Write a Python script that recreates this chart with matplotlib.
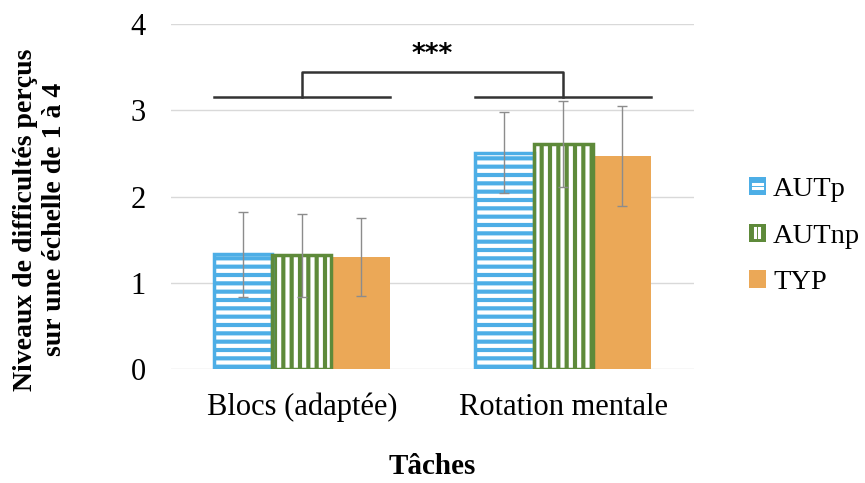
import matplotlib.pyplot as plt
from matplotlib.patches import Patch, Rectangle
from matplotlib.lines import Line2D
from matplotlib.legend_handler import HandlerBase
import numpy as np

plt.rcParams['font.family'] = ['Liberation Serif', 'DejaVu Serif']

taches = ["Blocs (adaptée)", "Rotation mentale"]
groupes = ["AUTp", "AUTnp", "TYP"]
moyennes = {
    "AUTp": [1.33, 2.51],
    "AUTnp": [1.32, 2.61],
    "TYP": [1.30, 2.47],
}
ecarts = {
    "AUTp": [0.49, 0.47],
    "AUTnp": [0.48, 0.50],
    "TYP": [0.45, 0.58],
}
couleurs = {"AUTp": "#4daee6", "AUTnp": "#5e8a3a", "TYP": "#eba857"}
hachures = {"AUTp": "--", "AUTnp": "||", "TYP": None}

plt.rcParams['hatch.linewidth'] = 3.0


class HandlerRaye(HandlerBase):
    # small square with two white stripes, like the legend keys of the original
    def create_artists(self, legend, orig_handle, xdescent, ydescent, width, height,
                       fontsize, trans):
        x0, y0 = -xdescent, -ydescent
        arts = [Rectangle((x0, y0), width, height, facecolor=orig_handle.get_facecolor(),
                          lw=0, transform=trans)]
        h = orig_handle.get_hatch()
        if h == "-":
            for f in (0.38, 0.62):
                arts.append(Line2D([x0 + width * 0.25, x0 + width * 0.75], [y0 + height * f] * 2,
                                   color="white", lw=2.2, transform=trans))
        elif h == "|":
            for f in (0.38, 0.62):
                arts.append(Line2D([x0 + width * f] * 2, [y0 + height * 0.25, y0 + height * 0.75],
                                   color="white", lw=2.2, transform=trans))
        return arts


fig = plt.figure(figsize=(8.65, 4.83), dpi=100)
ax = fig.add_axes([0.1977, 0.236, 0.6046, 0.714])

x = np.arange(len(taches))
w = 0.225
handles = []
for i, g in enumerate(groupes):
    pos = x + (i - 1) * w
    c = couleurs[g]
    if hachures[g]:
        ax.bar(pos, moyennes[g], w, color=c, edgecolor="white", hatch=hachures[g],
               linewidth=0, zorder=2)
        ax.bar(pos, moyennes[g], w, facecolor="none", edgecolor=c, linewidth=2.5, zorder=3)
        handles.append(Patch(facecolor=c, hatch=hachures[g][0], linewidth=0))
    else:
        ax.bar(pos, moyennes[g], w, color=c, linewidth=0, zorder=2)
        handles.append(Patch(facecolor=c, linewidth=0))
    ax.errorbar(pos, moyennes[g], yerr=ecarts[g], fmt="none", ecolor="#8c8c8c",
                elinewidth=1, capsize=3.5, zorder=4)

# significance bracket
niveau_bas = 3.15
niveau_haut = 3.44
for xi in x:
    ax.plot([xi - 1.5 * w, xi + 1.5 * w], [niveau_bas, niveau_bas], color="#333333", lw=1.8, zorder=5)
ax.plot([x[0], x[0], x[1], x[1]], [niveau_bas, niveau_haut, niveau_haut, niveau_bas],
        color="#333333", lw=1.8, zorder=5)
ax.text(x.mean(), 3.49, "***", ha="center", va="bottom", fontsize=19, fontweight="bold",
        family="DejaVu Sans")

ax.set_xlim(-0.5, 1.5)
ax.set_ylim(0, 4)
ax.set_yticks([0, 1, 2, 3, 4])
ax.set_xticks(x)
ax.set_xticklabels(taches)
ax.tick_params(axis="both", length=0, labelsize=22)
ax.tick_params(axis="y", pad=18)
ax.tick_params(axis="x", pad=17)
ax.grid(axis="y", color="#d9d9d9", lw=1, zorder=0)
for s in ax.spines.values():
    s.set_visible(False)

fig.text(0.046, 0.545, "Niveaux de difficultés perçus\nsur une échelle de 1 à 4",
         rotation=90, ha="center", va="center", fontsize=20, fontweight="bold",
         linespacing=1.2)
fig.text(0.5, 0.035, "Tâches", ha="center", va="center", fontsize=21, fontweight="bold")

ax.legend(handles, groupes, loc="center left", bbox_to_anchor=(1.083, 0.385), frameon=False,
          fontsize=20.5, handlelength=0.6, handleheight=0.6, handletextpad=0.25,
          labelspacing=0.75, borderaxespad=0,
          handler_map={Patch: HandlerRaye()})

fig.savefig("out.png", dpi=100)
